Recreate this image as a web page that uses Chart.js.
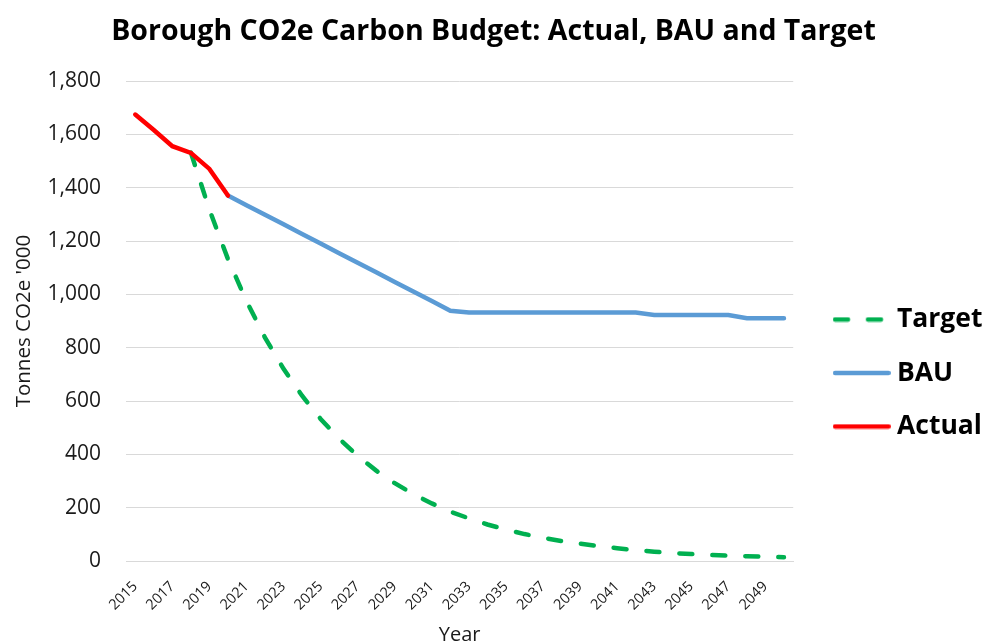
<!DOCTYPE html>
<html>
<head>
<meta charset="utf-8">
<script src="https://cdn.jsdelivr.net/npm/chart.js@4.4.0/dist/chart.umd.min.js"></script>
<style>
  html, body { margin: 0; padding: 0; background: #fff; }
  #wrap { width: 990px; height: 644px; }
</style>
</head>
<body>
<div id="wrap"><canvas id="c" width="990" height="644"></canvas></div>
<script>
const years = [2015,2016,2017,2018,2019,2020,2021,2022,2023,2024,2025,2026,2027,2028,2029,2030,2031,2032,2033,2034,2035,2036,2037,2038,2039,2040,2041,2042,2043,2044,2045,2046,2047,2048,2049,2050];
const target = [null,null,null,1532,1318,1133,975,838,721,620,533,459,394,339,292,251,216,185,160,137,118,101,87,75,65,56,48,41,35,30,26,23,20,18,16,14];
const bau = [null,null,null,null,null,1371,1335,1299,1263,1227,1191,1155,1119,1083,1047,1011,975,939,932,932,932,932,932,932,932,932,932,932,923,923,923,923,923,911,911,911];
const actual = [1675,1617,1556,1531,1471,1371,null,null,null,null,null,null,null,null,null,null,null,null,null,null,null,null,null,null,null,null,null,null,null,null,null,null,null,null,null,null];
const yTicks = [0,200,400,600,800,1000,1200,1400,1600,1800];

const FONT = '"Open Sans", Lato, sans-serif';
const LEGEND_DX = 19.5;
const LEGEND_DY = 51;
const TITLE_DX = 7;
const LINE_W = 4.5;
const TARGET_DASH = [13, 20];

// legend swatch: a short line sample in the series' style
function swatch(color, dash) {
  const c = document.createElement('canvas');
  c.width = 58; c.height = 6;
  const g = c.getContext('2d');
  g.strokeStyle = color; g.lineWidth = LINE_W; g.lineCap = 'round';
  g.setLineDash(dash || []);
  g.beginPath(); g.moveTo(2.25, 3); g.lineTo(55.75, 3); g.stroke();
  return c;
}

const boxShift = {
  id: 'boxShift',
  afterLayout(chart) {
    const lg = chart.legend;
    if (lg) {
      lg.left += LEGEND_DX; lg.right += LEGEND_DX;
      lg.top += LEGEND_DY; lg.bottom += LEGEND_DY;
    }
    const tb = chart.titleBlock;
    if (tb) { tb.left += TITLE_DX; tb.right += TITLE_DX; }
  }
};

new Chart(document.getElementById('c'), {
  type: 'line',
  data: {
    labels: years.map(String),
    datasets: [
      { label: 'Target', data: target, borderColor: '#00B050', backgroundColor: '#00B050',
        borderWidth: LINE_W, borderDash: TARGET_DASH, borderCapStyle: 'round', pointRadius: 0, tension: 0, order: 2,
        pointStyle: swatch('#00B050', TARGET_DASH) },
      { label: 'BAU', data: bau, borderColor: '#5B9BD5', backgroundColor: '#5B9BD5',
        borderWidth: LINE_W, borderCapStyle: 'round', pointRadius: 0, tension: 0, order: 1,
        pointStyle: swatch('#5B9BD5') },
      { label: 'Actual', data: actual, borderColor: '#FF0000', backgroundColor: '#FF0000',
        borderWidth: LINE_W, borderCapStyle: 'round', pointRadius: 0, tension: 0, order: 0,
        pointStyle: swatch('#FF0000') }
    ]
  },
  options: {
    responsive: false,
    animation: false,
    devicePixelRatio: 1,
    layout: { padding: { left: 0, right: 17, top: 0, bottom: 0 } },
    plugins: {
      title: {
        display: true,
        text: 'Borough CO2e Carbon Budget: Actual, BAU and Target',
        color: '#000',
        font: { family: FONT, size: 28.5, weight: 'bold' },
        padding: { top: 15, bottom: 32 }
      },
      legend: {
        position: 'right',
        labels: {
          usePointStyle: true,
          pointStyleWidth: 44,
          color: '#000',
          font: { family: FONT, size: 26.5, weight: 'bold' },
          padding: 27,
          sort: (a, b) => a.datasetIndex - b.datasetIndex
        }
      },
      tooltip: { enabled: false }
    },
    scales: {
      x: {
        offset: true,
        afterFit: (s) => { s.height = 83; },
        grid: { display: false, drawTicks: false },
        border: { display: true, color: '#D9D9D9', width: 1 },
        ticks: {
          autoSkip: false,
          minRotation: 45, maxRotation: 45,
          color: '#1a1a1a',
          font: { family: FONT, size: 14.5 },
          padding: 17,
          callback: function(v, i) { return i % 2 === 0 ? years[i] : ''; }
        },
        title: { display: true, text: 'Year', color: '#1a1a1a', font: { family: FONT, size: 20 }, padding: { top: 0, bottom: -3 } }
      },
      y: {
        min: 0, max: 1800,
        afterBuildTicks: (s) => { s.ticks = yTicks.map(v => ({ value: v })); },
        afterFit: (s) => { s.width = 126; },
        grid: { color: '#D9D9D9', lineWidth: 1, drawTicks: false },
        border: { display: false },
        ticks: {
          color: '#1a1a1a',
          font: { family: FONT, size: 21 },
          padding: 25,
          callback: (v) => v.toLocaleString('en-US')
        },
        title: { display: true, text: "Tonnes CO2e '000", color: '#1a1a1a', font: { family: FONT, size: 20.5 }, padding: { top: 12, bottom: 0 } }
      }
    }
  },
  plugins: [boxShift]
});
</script>
</body>
</html>
